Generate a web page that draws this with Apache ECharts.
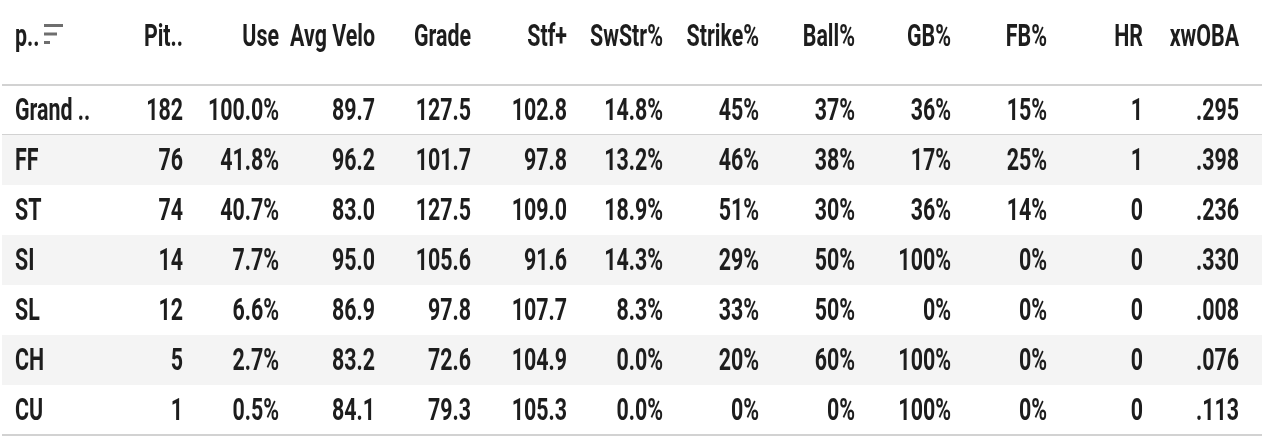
<!DOCTYPE html>
<html>
<head>
<meta charset="utf-8">
<script src="https://cdn.jsdelivr.net/npm/echarts@6/dist/echarts.min.js"></script>
<style>
html,body{margin:0;padding:0;background:#fff;}
#chart{width:1262px;height:444px;}
</style>
</head>
<body>
<div id="chart"></div>
<script>
const headers = ['p..','Pit..','Use','Avg Velo','Grade','Stf+','SwStr%','Strike%','Ball%','GB%','FB%','HR','xwOBA'];
const pitchTypes = ['Grand ..','FF','ST','SI','SL','CH','CU'];
const pitches = [182,76,74,14,12,5,1];
const usePct = [100.0,41.8,40.7,7.7,6.6,2.7,0.5];
const avgVelo = [89.7,96.2,83.0,95.0,86.9,83.2,84.1];
const grade = [127.5,101.7,127.5,105.6,97.8,72.6,79.3];
const stuffPlus = [102.8,97.8,109.0,91.6,107.7,104.9,105.3];
const swStrPct = [14.8,13.2,18.9,14.3,8.3,0.0,0.0];
const strikePct = [45,46,51,29,33,20,0];
const ballPct = [37,38,30,50,50,60,0];
const gbPct = [36,17,36,100,0,100,100];
const fbPct = [15,25,14,0,0,0,0];
const hrCount = [1,1,0,0,0,0,0];
const xwOBA = [0.295,0.398,0.236,0.330,0.008,0.076,0.113];

const FONT = "Roboto, 'Noto Sans', sans-serif";
const FS = 31;
const SX = 0.69;
const TXT = '#1d1d1d';

const f1 = v => v.toFixed(1);
const p1 = v => v.toFixed(1) + '%';
const p0 = v => Math.round(v) + '%';
const i0 = v => String(v);
const ob = v => v.toFixed(3).replace(/^0/, '');

const columns = [
  {vals: pitchTypes, fmt: v => v},
  {vals: pitches, fmt: i0},
  {vals: usePct, fmt: p1},
  {vals: avgVelo, fmt: f1},
  {vals: grade, fmt: f1},
  {vals: stuffPlus, fmt: f1},
  {vals: swStrPct, fmt: p1},
  {vals: strikePct, fmt: p0},
  {vals: ballPct, fmt: p0},
  {vals: gbPct, fmt: p0},
  {vals: fbPct, fmt: p0},
  {vals: hrCount, fmt: i0},
  {vals: xwOBA, fmt: ob}
];

const rowData = pitchTypes.map((_, i) => [0, i]);

const chart = echarts.init(document.getElementById('chart'), null, {renderer: 'canvas'});

function cellText(str, x, y, left) {
  return {
    type: 'text',
    x: x, y: y,
    scaleX: SX,
    style: {
      text: str, x: 0, y: 0,
      align: left ? 'left' : 'right',
      verticalAlign: 'middle',
      fill: TXT,
      fontSize: FS,
      fontWeight: 'bold',
      fontFamily: FONT
    }
  };
}

function renderRow(params, api) {
  const row = api.value(1);
  const size = api.size([1, 1]);
  const bw = size[0], bh = size[1];
  const W = api.getWidth();
  const c0 = api.coord([0, row]);
  const top = c0[1] - bh / 2;
  const bottom = c0[1] + bh / 2;
  const children = [];
  if (row > 0 && row % 2 === 1) {
    children.push({type: 'rect', shape: {x: 2, y: top, width: W - 2, height: bh}, style: {fill: '#f4f4f4'}});
  }
  const lineStyle = {stroke: '#d2d2d2', lineWidth: 2};
  if (row === 0) {
    children.push({type: 'line', shape: {x1: 2, y1: top, x2: W, y2: top}, style: lineStyle});
    // header row
    const hy = top - 47;
    headers.forEach((h, j) => {
      const c = api.coord([j, row]);
      const left = j === 0;
      children.push(cellText(h, left ? c[0] - bw / 2 + 9 : c[0] + bw / 2 - 15, hy, left));
    });
    // sort icon beside the first header
    const ix = c0[0] - bw / 2 + 38;
    const iy = top - 61;
    [19, 13, 6].forEach((w, k) => {
      children.push({type: 'rect', shape: {x: ix, y: iy + k * 8.5, width: w, height: 3}, style: {fill: '#6e6e6e'}});
    });
  }
  if (row === 0 || row === pitchTypes.length - 1) {
    children.push({type: 'line', shape: {x1: 2, y1: bottom, x2: W, y2: bottom}, style: lineStyle});
  }
  columns.forEach((col, j) => {
    const c = api.coord([j, row]);
    const left = j === 0;
    children.push(cellText(col.fmt(col.vals[row]), left ? c[0] - bw / 2 + 9 : c[0] + bw / 2 - 15, c[1] + 2, left));
  });
  return {type: 'group', children};
}

chart.setOption({
  animation: false,
  backgroundColor: '#fff',
  grid: {left: 6, right: 8, top: 85, bottom: 9},
  xAxis: {
    type: 'category',
    position: 'top',
    data: headers,
    show: false
  },
  yAxis: {
    type: 'category',
    inverse: true,
    data: pitchTypes,
    show: false
  },
  series: [{
    type: 'custom',
    renderItem: renderRow,
    encode: {x: 0, y: 1},
    data: rowData,
    clip: false
  }]
});
</script>
</body>
</html>
